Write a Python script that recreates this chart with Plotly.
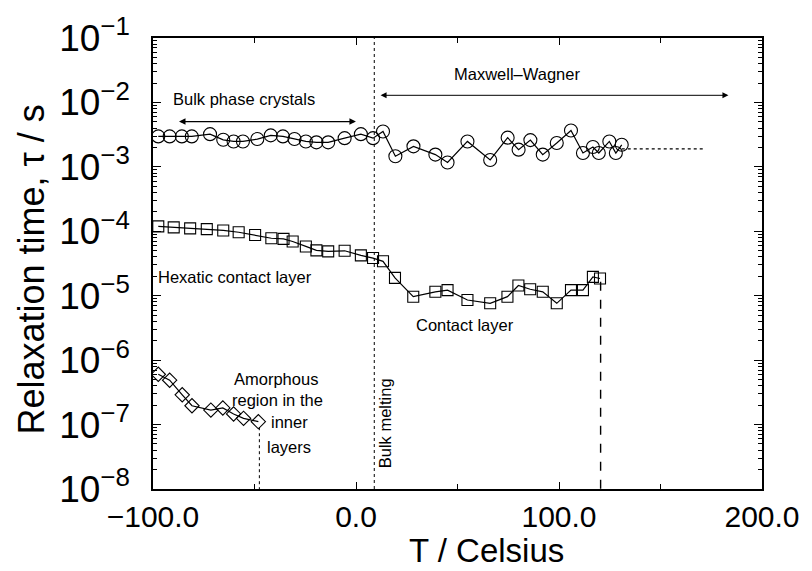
import math
import plotly.graph_objects as go

# ---- data ----
circ_T = [-97.4, -91.8, -85.8, -80.9, -71.9, -65.4, -60.3, -55.7, -48.6, -42.0, -36.0, -30.3,
          -24.7, -19.5, -13.7, -5.6, 2.4, 8.4, 13.3, 19.4, 28.3, 39.1, 45.1, 54.9, 66.1, 74.7,
          80.1, 85.9, 92.0, 98.9, 105.9, 111.8, 116.7, 119.6, 124.8, 128.0, 130.9]
circ_tau = [2.97e-3, 2.97e-3, 2.97e-3, 2.97e-3, 3.22e-3, 2.63e-3, 2.48e-3, 2.48e-3, 2.70e-3,
            3.08e-3, 2.97e-3, 2.70e-3, 2.48e-3, 2.40e-3, 2.40e-3, 2.79e-3, 3.22e-3, 2.79e-3,
            3.54e-3, 1.46e-3, 2.08e-3, 1.55e-3, 1.17e-3, 2.48e-3, 1.28e-3, 2.84e-3, 1.85e-3,
            2.60e-3, 1.55e-3, 2.34e-3, 3.67e-3, 1.64e-3, 2.03e-3, 1.64e-3, 2.48e-3, 1.64e-3, 2.20e-3]
circ_ext_T = [130.9, 171.0]
circ_ext_tau = [1.9e-3, 1.9e-3]

sq_T = [-97.4, -89.8, -81.7, -73.5, -65.4, -57.8, -49.7, -41.7, -35.7, -31.2, -24.7, -19.5,
        -13.7, -5.6, 2.4, 8.4, 13.3, 19.2, 28.2, 39.1, 45.1, 54.9, 66.1, 74.6, 80.0, 85.8,
        92.0, 98.9, 105.9, 111.8, 116.7, 120.2]
sq_tau = [1.19e-4, 1.15e-4, 1.11e-4, 1.08e-4, 1.03e-4, 9.66e-5, 8.78e-5, 7.80e-5, 7.62e-5,
          6.95e-5, 5.82e-5, 5.05e-5, 4.88e-5, 4.98e-5, 4.23e-5, 3.84e-5, 3.42e-5, 1.89e-5,
          9.66e-6, 1.15e-5, 1.22e-5, 8.59e-6, 7.62e-6, 9.66e-6, 1.44e-5, 1.26e-5, 1.15e-5,
          7.62e-6, 1.22e-5, 1.22e-5, 1.96e-5, 1.85e-5]
sq_drop_T = [120.5, 120.5]
sq_drop_tau = [1.64e-5, 1e-8]

dia_T = [-97.4, -91.8, -85.6, -80.8, -71.5, -65.6, -60.3, -55.4, -48.1]
dia_tau = [6.03e-7, 4.88e-7, 2.90e-7, 1.96e-7, 1.68e-7, 1.81e-7, 1.46e-7, 1.25e-7, 1.11e-7]
dia_drop_T = [-47.6, -47.6]
dia_drop_tau = [9.1e-8, 1e-8]

melt_T = [9.0, 9.0]
melt_tau = [1e-8, 1e-1]

y_tickvals = [1e-8, 1e-7, 1e-6, 1e-5, 1e-4, 1e-3, 1e-2, 1e-1]
y_ticktext = ["10<sup>−8</sup>", "10<sup>−7</sup>", "10<sup>−6</sup>", "10<sup>−5</sup>",
              "10<sup>−4</sup>", "10<sup>−3</sup>", "10<sup>−2</sup>", "10<sup>−1</sup>"]
x_tickvals = [-100, 0, 100, 200]
x_ticktext = ["−100.0", "0.0", "100.0", "200.0"]

FONT = "Liberation Sans, Arial, Helvetica, sans-serif"

fig = go.Figure()
fig.add_trace(go.Scatter(x=melt_T, y=melt_tau, mode="lines",
                         line=dict(color="black", width=1, dash="dot")))
fig.add_trace(go.Scatter(x=circ_ext_T, y=circ_ext_tau, mode="lines",
                         line=dict(color="black", width=1.2, dash="dot")))
fig.add_trace(go.Scatter(x=sq_drop_T, y=sq_drop_tau, mode="lines",
                         line=dict(color="black", width=1.4, dash="dash")))
fig.add_trace(go.Scatter(x=dia_drop_T, y=dia_drop_tau, mode="lines",
                         line=dict(color="black", width=1, dash="dot")))
fig.add_trace(go.Scatter(x=circ_T, y=circ_tau, mode="lines+markers",
                         line=dict(color="black", width=1.2),
                         marker=dict(symbol="circle-open", size=13, color="black",
                                     line=dict(width=1.1))))
fig.add_trace(go.Scatter(x=sq_T, y=sq_tau, mode="lines+markers",
                         line=dict(color="black", width=1.2),
                         marker=dict(symbol="square-open", size=11, color="black",
                                     line=dict(width=1.1))))
fig.add_trace(go.Scatter(x=dia_T, y=dia_tau, mode="lines+markers",
                         line=dict(color="black", width=1.2),
                         marker=dict(symbol="diamond-open", size=11, color="black",
                                     line=dict(width=1.1))))

L = math.log10
ann_font = dict(family=FONT, size=16.5, color="black")
anns = []
# arrows
anns.append(dict(x=-87.2, y=L(5.05e-3), ax=0.7, ay=L(5.05e-3), xref="x", yref="y",
                 axref="x", ayref="y", text="", showarrow=True, arrowhead=2, arrowside="end+start",
                 arrowsize=1, arrowwidth=1.3, arrowcolor="black", standoff=0, startstandoff=0))
anns.append(dict(x=12.1, y=L(1.29e-2), ax=184.2, ay=L(1.29e-2), xref="x", yref="y",
                 axref="x", ayref="y", text="", showarrow=True, arrowhead=2, arrowside="end+start",
                 arrowsize=1.2, arrowwidth=1, arrowcolor="black", standoff=0, startstandoff=0))
texts = [
    ("Bulk phase crystals", -90.9, -1.954, "left", 0),
    ("Maxwell–Wagner", 79.4, -1.554, "center", 0),
    ("Hexatic contact layer", -98.6, -4.708, "left", 0),
    ("Contact layer", 28.6, -5.451, "left", 0),
    ("Amorphous", -39.3, -6.292, "center", 0),
    ("region in the", -38.9, -6.615, "center", 0),
    ("inner", -32.8, -6.954, "center", 0),
    ("layers", -32.8, -7.354, "center", 0),
    ("Bulk melting", 14.1, -6.985, "center", -90),
]
for t, x, y, xa, rot in texts:
    anns.append(dict(text=t, x=x, y=y, xref="x", yref="y", xanchor=xa, yanchor="middle",
                     showarrow=False, font=ann_font, textangle=rot))

# axis titles as paper annotations for exact placement
anns.append(dict(text="T / Celsius", x=0.548, y=-0.137, xref="paper", yref="paper",
                 xanchor="center", yanchor="middle", showarrow=False,
                 font=dict(family=FONT, size=33, color="black")))
anns.append(dict(text="Relaxation time, τ / s", x=-0.199, y=0.486, xref="paper", yref="paper",
                 xanchor="center", yanchor="middle", showarrow=False,
                 font=dict(family=FONT, size=36, color="black"), textangle=-90))

fig.update_layout(
    width=812, height=571,
    margin=dict(l=153, r=40, t=34, b=82),
    paper_bgcolor="white", plot_bgcolor="white",
    showlegend=False,
    font=dict(family=FONT, color="black"),
    annotations=anns,
)
fig.update_xaxes(
    range=[-100, 200], tickmode="array", tickvals=x_tickvals, ticktext=x_ticktext,
    ticks="inside", ticklen=7, tickwidth=1, tickcolor="black",
    minor=dict(tickmode="array", tickvals=[-50, 50, 150], ticks="inside", ticklen=5,
               tickcolor="black", showgrid=False),
    showline=True, linecolor="black", linewidth=1.5, mirror="ticks",
    showgrid=False, zeroline=False,
    tickfont=dict(family=FONT, size=30, color="black"),
)
fig.update_yaxes(
    type="log", range=[-8, -1], tickmode="array", tickvals=y_tickvals, ticktext=y_ticktext,
    ticks="inside", ticklen=8, tickwidth=1, tickcolor="black", ticklabelstandoff=14,
    minor=dict(ticks="inside", ticklen=4, dtick="D1", tickcolor="black", showgrid=False),
    showline=True, linecolor="black", linewidth=1.5, mirror="ticks",
    showgrid=False, zeroline=False,
    tickfont=dict(family=FONT, size=37, color="black"),
)
fig.write_html("out.html")
